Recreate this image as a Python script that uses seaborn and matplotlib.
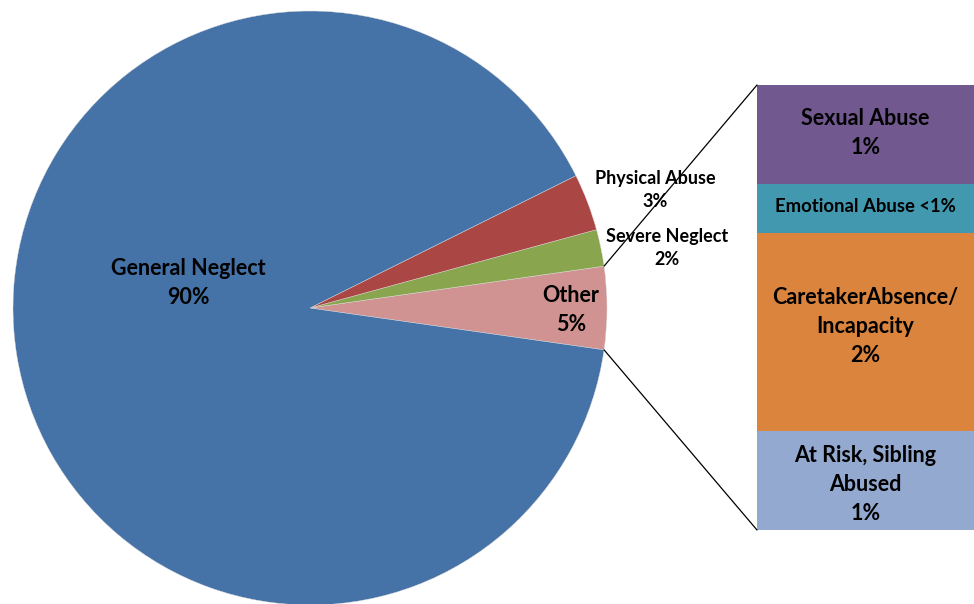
import numpy as np
import matplotlib
matplotlib.use("Agg")
import matplotlib.pyplot as plt
from matplotlib.patches import ConnectionPatch
import seaborn as sns

# ---- data ----
pie_labels = ["Other", "Severe Neglect", "Physical Abuse", "General Neglect"]
pie_values = [4.5, 2.0, 3.1, 90.4]
pie_pct = ["5%", "2%", "3%", "90%"]
pie_colors = ["#D09391", "#89A54E", "#AA4643", "#4572A7"]

bar_labels = ["At Risk, Sibling\nAbused", "CaretakerAbsence/\nIncapacity", "Emotional Abuse", "Sexual Abuse"]
bar_values = [1.0, 2.0, 0.5, 1.0]
bar_pct = ["1%", "2%", "<1%", "1%"]
bar_colors = ["#93A9CF", "#DB843D", "#4198AF", "#71588F"]

sns.set_theme(style="white")
plt.rcParams["font.family"] = ["Lato", "DejaVu Sans"]

W, H = 974, 604
fig = plt.figure(figsize=(W / 100, H / 100), dpi=100)
ax = fig.add_axes([0, 0, 1, 1])

cx, cy, r = 310, 604 - 308, 297
start = -360 * pie_values[0] / sum(pie_values) / 2
wedges, _ = ax.pie(pie_values, colors=pie_colors, startangle=start, counterclock=True,
                   center=(cx, cy), radius=r, frame=True,
                   wedgeprops=dict(linewidth=0.3, edgecolor="#dddddd"))
ax.set_xlim(0, W)
ax.set_ylim(0, H)
ax.set_aspect("equal")
ax.axis("off")

# pie labels (pixel positions converted to data coords)
label_pos = {
    "Other": (571, 310, 15.5, 1.45),
    "Severe Neglect": (667, 248, 13, 1.37),
    "Physical Abuse": (655, 190, 13, 1.37),
    "General Neglect": (188, 283, 15.5, 1.45),
}
for name, pct in zip(pie_labels, pie_pct):
    x, y, fs, ls = label_pos[name]
    ax.text(x, H - y, f"{name}\n{pct}", ha="center", va="center", fontsize=fs,
            fontweight="bold", color="black", linespacing=ls)

# bar of pie
bx0, bx1, by0, by1 = 757, 974, 85, 530
bax = fig.add_axes([bx0 / W, (H - by1) / H, (bx1 - bx0) / W, (by1 - by0) / H])
bottoms = np.concatenate([[0], np.cumsum(bar_values)[:-1]])
for v, b, c in zip(bar_values, bottoms, bar_colors):
    sns.barplot(x=["x"], y=[v], bottom=b, color=c, width=1.0, ax=bax,
                saturation=1, linewidth=0)
bax.set_xlim(-0.5, 0.5)
bax.set_ylim(0, sum(bar_values))
bax.axis("off")

offsets = [-0.04, 0.06, 0.02, 0.01]
for lab, v, b, pct, off in zip(bar_labels, bar_values, bottoms, bar_pct, offsets):
    if lab == "Emotional Abuse":
        txt, fs = f"{lab} {pct}", 13.3
    else:
        txt, fs = f"{lab}\n{pct}", 15.5
    bax.text(0, b + v / 2 + off, txt, ha="center", va="center", fontsize=fs,
             fontweight="bold", color="black", linespacing=1.47)

# connector lines
a1 = np.deg2rad(start + 360 * pie_values[0] / sum(pie_values))
a0 = np.deg2rad(start)
p_top = (cx + r * np.cos(a1), cy + r * np.sin(a1))
p_bot = (cx + r * np.cos(a0), cy + r * np.sin(a0))
for p, yb in [(p_top, sum(bar_values)), (p_bot, 0)]:
    con = ConnectionPatch(xyA=p, coordsA=ax.transData, xyB=(-0.5, yb), coordsB=bax.transData,
                          color="black", linewidth=0.9)
    fig.add_artist(con)

fig.savefig("out.png", dpi=100)
